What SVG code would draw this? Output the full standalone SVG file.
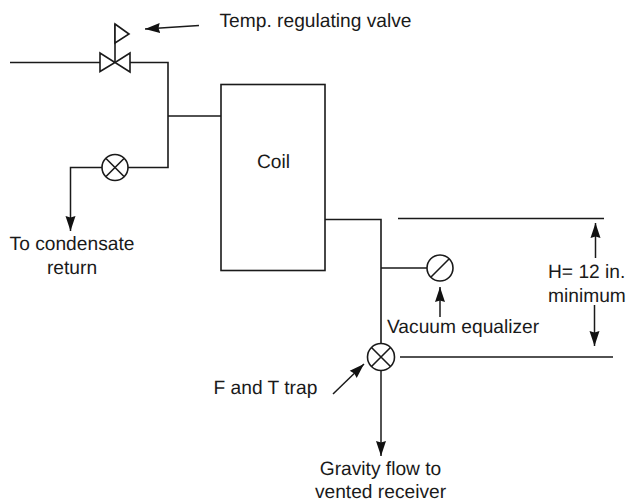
<svg xmlns="http://www.w3.org/2000/svg" width="628" height="502" viewBox="0 0 628 502">
<defs>
<marker id="ah" markerUnits="userSpaceOnUse" markerWidth="16" markerHeight="12" refX="15" refY="6" orient="auto"><path d="M0,1 L15,6 L0,11 L1.500,6 Z" fill="#111"/></marker>
</defs>
<style>
.l{fill:none;stroke:#1a1a1a;stroke-width:1.6}
.s{fill:#fff;stroke:#1a1a1a;stroke-width:1.6}
.a{fill:none;stroke:#1a1a1a;stroke-width:1.5;marker-end:url(#ah)}
text{font-family:"Liberation Sans",Arial,sans-serif;font-size:19.2px;fill:#1a1a1a;text-rendering:geometricPrecision}
.m{text-anchor:middle}
</style>
<g id="connectors">
<path class="l" d="M10,62.500H100M130,62.500H168V167.500H128M168,116H221"/>
<path class="a" d="M103,167.500H70.500V231"/>
<path class="l" d="M323,219.500H381V344M381,268H427"/>
<path class="a" d="M381,370V456"/>
<path class="l" d="M398,218.500H604M400,357H613"/>
<path class="a" d="M199,25.500L145,29"/>
<path class="a" d="M595.500,258V223"/>
<path class="a" d="M594.500,305V346"/>
<path class="a" d="M440,317V287"/>
<path class="a" d="M333,394L364,364"/>
</g>
<g id="valve"><path class="s" d="M100,53V71.500L115,62.500ZM130,53V72L115,62.500Z"/><path class="l" d="M115,62.500V24"/><path class="s" d="M115,24L129,34L115,43Z"/></g>
<g id="trap1"><circle class="s" cx="115" cy="167.500" r="13"/><path class="l" d="M106,158.500L124,176.500M124,158.500L106,176.500"/></g>
<g id="coil"><rect class="s" x="221" y="84.500" width="104" height="186"/><text x="273.500" y="168" class="m">Coil</text></g>
<g id="equalizer"><circle class="s" cx="440" cy="268" r="13"/><path class="l" d="M431,277L449,259"/></g>
<g id="trap2"><circle class="s" cx="381" cy="357" r="13.500"/><path class="l" d="M371.500,347.500L390.500,366.500M390.500,347.500L371.500,366.500"/></g>
<g id="labels">
<text x="219.500" y="27">Temp. regulating valve</text>
<text x="72" y="250" class="m">To condensate</text>
<text x="72" y="274" class="m">return</text>
<text x="387" y="332.500">Vacuum equalizer</text>
<text x="548" y="278">H= 12 in.</text>
<text x="548" y="302">minimum</text>
<text x="213.500" y="394">F and T trap</text>
<text x="380.500" y="475" class="m">Gravity flow to</text>
<text x="380.500" y="497.500" class="m">vented receiver</text>
</g>
</svg>
